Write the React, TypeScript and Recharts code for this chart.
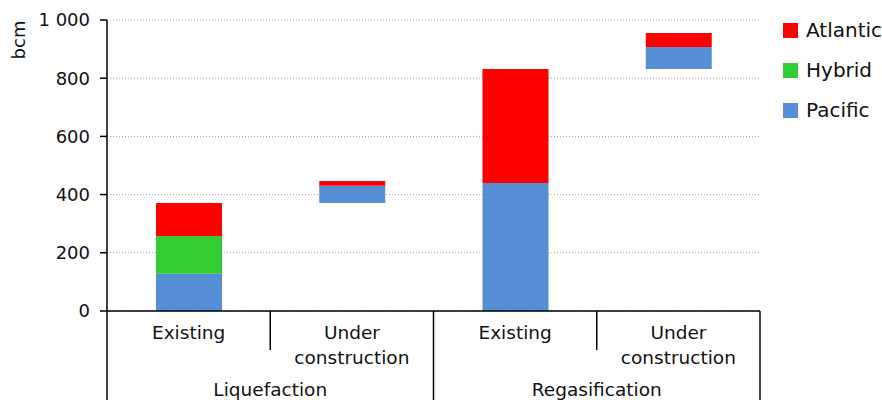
import React from 'react';
import { BarChart, Bar, XAxis, YAxis, CartesianGrid } from 'recharts';

const categoryKeys = ['liq-existing', 'liq-under', 'reg-existing', 'reg-under'];
const categoryLabels = [['Existing'], ['Under', 'construction'], ['Existing'], ['Under', 'construction']];
const groupLabels = ['Liquefaction', 'Regasification'];
const baseValues = [0, 371, 0, 832];
const pacificValues = [128, 59, 440, 75];
const hybridValues = [130, 0, 0, 0];
const atlanticValues = [113, 17, 392, 48];
const yTicks = [0, 200, 400, 600, 800, 1000];

const seriesInfo = [
  { name: 'Atlantic', color: '#FF0000' },
  { name: 'Hybrid', color: '#33CC33' },
  { name: 'Pacific', color: '#558ED5' },
];

const data = categoryKeys.map((k, i) => ({
  key: k,
  base: baseValues[i],
  Pacific: pacificValues[i],
  Hybrid: hybridValues[i],
  Atlantic: atlanticValues[i],
}));

const FONT = '"DejaVu Sans", Verdana, sans-serif';
const TEXT = '#111';

const fmt = (v: number) => String(v).replace(/\B(?=(\d{3})+(?!\d))/g, ' ');

const CHART_W = 882;
const MARGIN = { top: 20, right: 122, bottom: 0, left: 47 };
const Y_W = 60;

const XTick = (props: any) => {
  const { x, y, index } = props;
  const n = categoryKeys.length;
  const plotW = props.width && props.width > 0 ? props.width : CHART_W - MARGIN.left - MARGIN.right - Y_W;
  const band = plotW / n;
  const left = x - band / 2;
  const right = x + band / 2;
  const lines = categoryLabels[index] || [];
  const isGroupStart = index % 2 === 0;
  return (
    <g>
      <line x1={left} y1={y} x2={left} y2={isGroupStart ? 400 : y + 39} stroke="#000" strokeWidth={1.5} />
      {index === n - 1 && <line x1={right} y1={y} x2={right} y2={400} stroke="#000" strokeWidth={1.5} />}
      {lines.map((t: string, i: number) => (
        <text key={i} x={x} y={y + 28 + i * 25} textAnchor="middle" fontFamily={FONT} fontSize={18.5} fill={TEXT}>
          {t}
        </text>
      ))}
      {isGroupStart && (
        <text x={right} y={y + 85} textAnchor="middle" fontFamily={FONT} fontSize={18.5} fill={TEXT}>
          {groupLabels[index / 2]}
        </text>
      )}
    </g>
  );
};

const YLabel = (props: any) => {
  const vb = props.viewBox || { x: 47, y: 20 };
  const cx = vb.x - 29;
  const cy = vb.y + 20;
  return (
    <text x={cx} y={cy} transform={`rotate(-90, ${cx}, ${cy})`} textAnchor="middle" dominantBaseline="central" fontFamily={FONT} fontSize={18} fill={TEXT}>
      bcm
    </text>
  );
};

export default function App() {
  return (
    <div style={{ position: 'absolute', left: 0, top: 0, width: 882, height: 400 }}>
      <BarChart width={CHART_W} height={400} data={data} margin={MARGIN} barCategoryGap="30%">
        <CartesianGrid vertical={false} stroke="#9a9a9a" strokeDasharray="1 2" />
        <XAxis
          dataKey="key"
          height={89}
          tickLine={false}
          tickSize={0}
          tickMargin={0}
          axisLine={{ stroke: '#000', strokeWidth: 1.5 }}
          tick={<XTick />}
          interval={0}
        />
        <YAxis
          width={Y_W}
          domain={[0, 1000]}
          ticks={yTicks}
          tickFormatter={fmt}
          axisLine={{ stroke: '#000', strokeWidth: 1.5 }}
          tickLine={{ stroke: '#000', strokeWidth: 1.5 }}
          tickSize={7}
          tickMargin={10}
          tick={{ fontFamily: FONT, fontSize: 18, fill: TEXT }}
          label={<YLabel />}
        />
        <Bar dataKey="base" stackId="a" fill="transparent" barSize={66} isAnimationActive={false} />
        <Bar dataKey="Pacific" stackId="a" fill="#558ED5" barSize={66} isAnimationActive={false} />
        <Bar dataKey="Hybrid" stackId="a" fill="#33CC33" barSize={66} isAnimationActive={false} />
        <Bar dataKey="Atlantic" stackId="a" fill="#FF0000" barSize={66} isAnimationActive={false} />
      </BarChart>
      <div style={{ position: 'absolute', left: 783, top: 10, fontFamily: FONT, fontSize: 20, color: TEXT }}>
        {seriesInfo.map((s) => (
          <div key={s.name} style={{ display: 'flex', alignItems: 'center', height: 40 }}>
            <div style={{ width: 15, height: 15, background: s.color, marginRight: 8, flexShrink: 0 }} />
            <span style={{ lineHeight: '22px', whiteSpace: 'nowrap' }}>{s.name}</span>
          </div>
        ))}
      </div>
    </div>
  );
}
